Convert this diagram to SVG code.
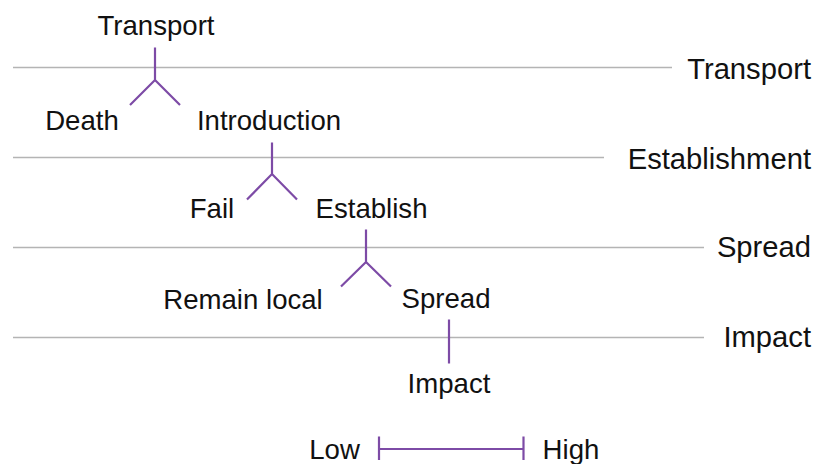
<svg xmlns="http://www.w3.org/2000/svg" width="817" height="464" viewBox="0 0 817 464">
<style>
.grid{stroke:#b4b4b4;stroke-width:1.5;fill:none}
.con{stroke:#7d4ba6;stroke-width:2.2;fill:none;stroke-linecap:butt}
.node{font-family:"Liberation Sans",Arial,sans-serif;font-size:27.6px;fill:#111;text-anchor:middle}
.stage{font-family:"Liberation Sans",Arial,sans-serif;font-size:29.2px;fill:#111;text-anchor:end}
</style>
<rect width="817" height="464" fill="#ffffff"/>
<g id="stages">
<line class="grid" x1="13" y1="67.5" x2="672" y2="67.5"/>
<line class="grid" x1="13" y1="157.5" x2="604" y2="157.5"/>
<line class="grid" x1="13" y1="247.5" x2="704" y2="247.5"/>
<line class="grid" x1="13" y1="337.5" x2="704" y2="337.5"/>
<text class="stage" x="811" y="79">Transport</text>
<text class="stage" x="811" y="168.5">Establishment</text>
<text class="stage" x="811" y="257">Spread</text>
<text class="stage" x="811" y="347">Impact</text>
</g>
<g id="connectors">
<path class="con" d="M155 47.5V80M130 105L155 80L180 105"/>
<path class="con" d="M272 142.5V174M247 199.5L272 174L297 199.5"/>
<path class="con" d="M366 229.5V262M341 286.5L366 262L391 286.5"/>
<path class="con" d="M449 319.5V363.5"/>
</g>
<g id="n-transport"><text class="node" x="156" y="35">Transport</text></g>
<g id="n-death"><text class="node" x="82" y="129.5">Death</text></g>
<g id="n-introduction"><text class="node" x="269" y="130">Introduction</text></g>
<g id="n-fail"><text class="node" x="212" y="218">Fail</text></g>
<g id="n-establish"><text class="node" x="371.5" y="218">Establish</text></g>
<g id="n-remain-local"><text class="node" x="243" y="308.5">Remain local</text></g>
<g id="n-spread"><text class="node" x="446" y="308">Spread</text></g>
<g id="n-impact"><text class="node" x="449" y="392.5">Impact</text></g>
<g id="legend">
<path class="con" d="M379 436.5V460M379 449H523.5M523.5 436.5V460"/>
<text class="node" x="334.5" y="458.5">Low</text>
<text class="node" x="571" y="458.5">High</text>
</g>
</svg>
